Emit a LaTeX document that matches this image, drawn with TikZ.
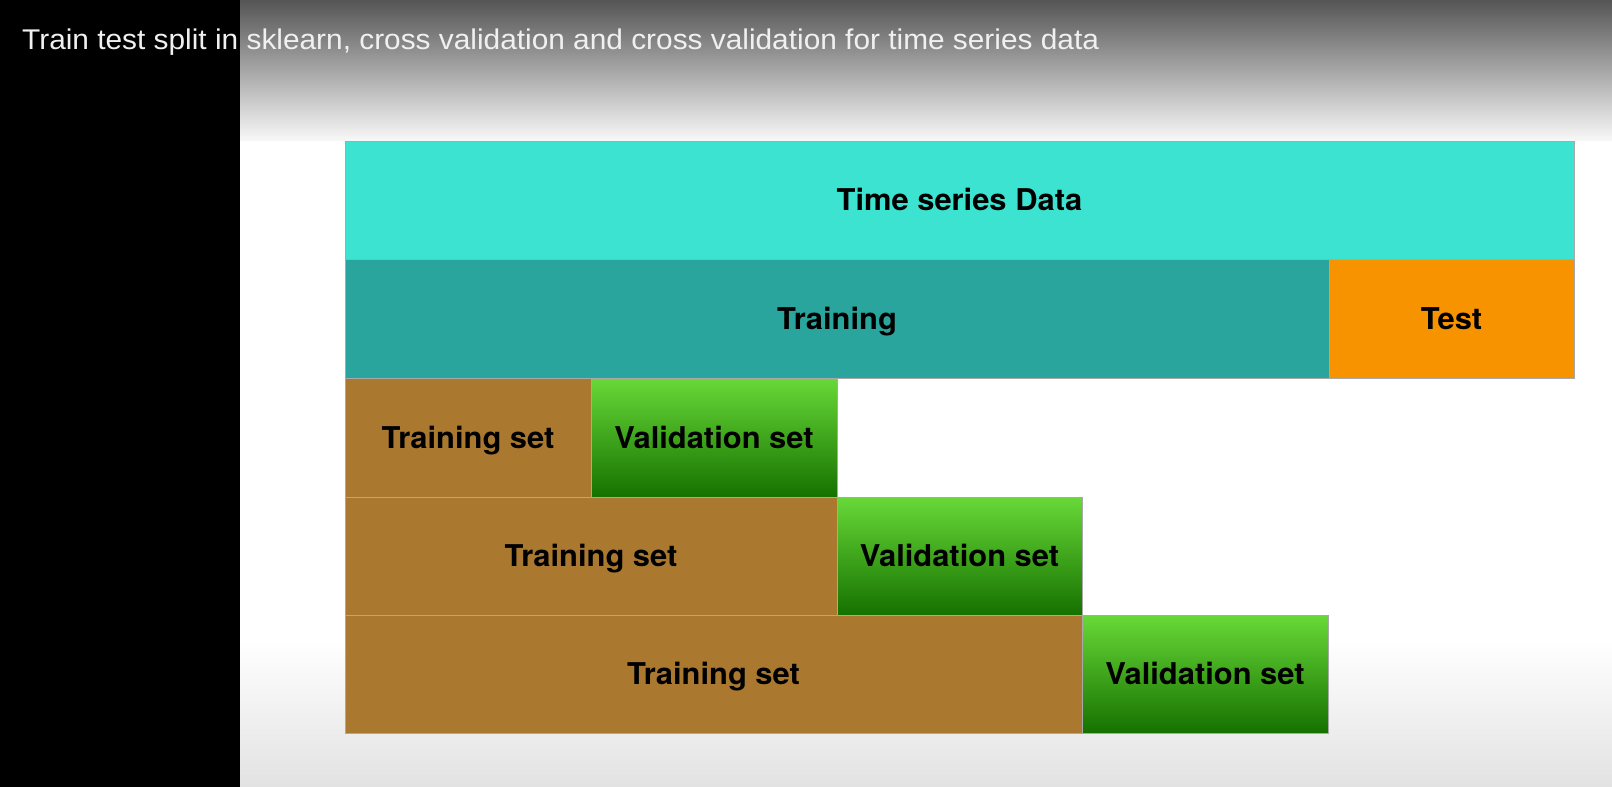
\documentclass[tikz,border=0pt]{standalone}
\usepackage{fontspec}
\newfontfamily\titlefont[FakeStretch=1.047]{Liberation Sans}
\newfontfamily\boxfont[FakeStretch=1.03]{TeX Gyre Heros}
\definecolor{bgtop}{HTML}{555555}
\definecolor{bgbot}{HTML}{E2E2E2}
\definecolor{tsdata}{HTML}{3BE3D0}
\definecolor{traincol}{HTML}{29A59D}
\definecolor{testcol}{HTML}{F89300}
\definecolor{browncol}{HTML}{AA782F}
\definecolor{greentop}{HTML}{68D938}
\definecolor{greenbot}{HTML}{167100}
\definecolor{edgegray}{HTML}{A8A8A8}
\tikzset{
  x=1pt, y=-1pt,
  blk/.style={rectangle, inner sep=0pt, outer sep=0pt, draw=edgegray, line width=0.8pt,
    font=\boxfont\fontsize{30}{34}\selectfont\bfseries, text=black,
    text height=21.5pt, text depth=0pt, align=center},
  datab/.style={blk, fill=tsdata},
  trainb/.style={blk, fill=traincol},
  testb/.style={blk, fill=testcol},
  tsetb/.style={blk, fill=browncol},
  valb/.style={blk, top color=greentop, bottom color=greenbot},
  titletext/.style={inner sep=0pt, anchor=base west, text=white!94!black,
    font=\titlefont\fontsize{28.5}{32}\selectfont}
}
% \mkbox{name}{x1}{y1}{x2}{y2}{style}{text}
\newcommand\mkbox[7]{%
  \node[#6, minimum width={#4-#2}, minimum height={#5-#3}] (#1) at ({(#2+#4)/2},{(#3+#5)/2}) {#7};}
\begin{document}
\begin{tikzpicture}
\useasboundingbox (0,0) rectangle (1612,787);
% background
\fill[white] (0,0) rectangle (1612,787);
\shade[top color=bgtop, bottom color=white!97!black] (240,0) rectangle (1612,140);
\shade[top color=white, bottom color=bgbot] (240,640) rectangle (1612,787);
\fill[black] (0,0) rectangle (240,787);
% title
\node[titletext] (title) at (22,49) {Train test split in sklearn, cross validation and cross validation for time series data};
% rows
\mkbox{data}{345}{141}{1574}{259}{datab}{Time series Data}
\mkbox{train}{345}{259}{1329}{378}{trainb}{Training}
\mkbox{test}{1329}{259}{1574}{378}{testb}{Test}
\mkbox{tsa}{345}{378}{591}{497}{tsetb}{Training set}
\mkbox{vsa}{591}{378}{837}{497}{valb}{Validation set}
\mkbox{tsb}{345}{497}{837}{615}{tsetb}{Training set}
\mkbox{vsb}{837}{497}{1082}{615}{valb}{Validation set}
\mkbox{tsc}{345}{615}{1082}{733}{tsetb}{Training set}
\mkbox{vsc}{1082}{615}{1328}{733}{valb}{Validation set}
\end{tikzpicture}
\end{document}
